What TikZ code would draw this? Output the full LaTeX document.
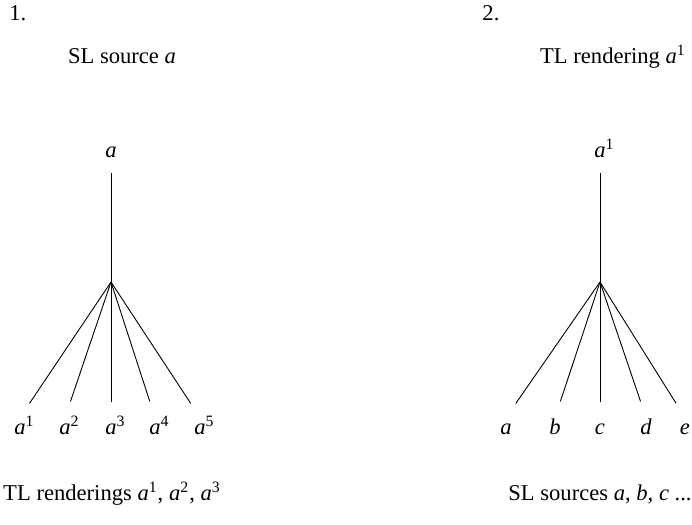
\documentclass[tikz,border=0pt]{standalone}
\usepackage{fontspec}
\setmainfont{Liberation Serif}

\begin{document}
\begin{tikzpicture}[x=0.5pt, y=-0.5pt, line width=0.45pt, font=\fontsize{11.3}{13.5}\selectfont,
  caption/.style={anchor=base, inner sep=1pt},
  rootnode/.style={anchor=base, inner sep=1pt},
  leafnode/.style={anchor=base, text height=7pt, inner sep=1pt}]

\useasboundingbox (0,0) rectangle (692,525);

% 1. one source, many renderings
\node[caption, anchor=base west] (num1) at (7,20) {1.};
\node[caption] (head1) at (122,63) {SL source \textit{a}};
\node[rootnode] (root1) at (111,157) {\textit{a}};
\coordinate (fork1) at (111,282);

\node[leafnode] (a1) at (20,434) {\textit{a}\rlap{\textsuperscript{1}}};
\node[leafnode] (a2) at (65,434) {\textit{a}\rlap{\textsuperscript{2}}};
\node[leafnode] (a3) at (111,434) {\textit{a}\rlap{\textsuperscript{3}}};
\node[leafnode] (a4) at (155,434) {\textit{a}\rlap{\textsuperscript{4}}};
\node[leafnode] (a5) at (200,434) {\textit{a}\rlap{\textsuperscript{5}}};

\node[caption] (foot1) at (112,500) {TL renderings \textit{a}\textsuperscript{1}, \textit{a}\textsuperscript{2}, \textit{a}\textsuperscript{3}};

\draw[shorten <=6.5pt] (root1.south) -- (fork1);
\draw[shorten >=8.5pt] (fork1) -- (a1.north);
\draw[shorten >=8.5pt] (fork1) -- (a2.north);
\draw[shorten >=8pt] (fork1) -- (a3.north);
\draw[shorten >=8.5pt] (fork1) -- (a4.north);
\draw[shorten >=8.5pt] (fork1) -- (a5.north);

% 2. one rendering, many sources
\node[caption, anchor=base west] (num2) at (480,20) {2.};
\node[caption] (head2) at (613,63) {TL rendering \textit{a}\textsuperscript{1}};
\node[rootnode] (root2) at (600,157) {\textit{a}\rlap{\textsuperscript{1}}};
\coordinate (fork2) at (600,282);

\node[leafnode] (sa) at (506,434) {\textit{a}};
\node[leafnode] (sb) at (555,434) {\textit{b}};
\node[leafnode] (sc) at (600,434) {\textit{c}};
\node[leafnode] (sd) at (646,434) {\textit{d}};
\node[leafnode] (se) at (685,434) {\textit{e}};

\node[caption] (foot2) at (600,500) {SL sources \textit{a}, \textit{b}, \textit{c} ...};

\draw[shorten <=6.5pt] (root2.south) -- (fork2);
\draw[shorten >=8.5pt] (fork2) -- (sa.north);
\draw[shorten >=8.5pt] (fork2) -- (sb.north);
\draw[shorten >=8pt] (fork2) -- (sc.north);
\draw[shorten >=8.5pt] (fork2) -- (sd.north);
\draw[shorten >=8.5pt] (fork2) -- (se.north);
\end{tikzpicture}
\end{document}
